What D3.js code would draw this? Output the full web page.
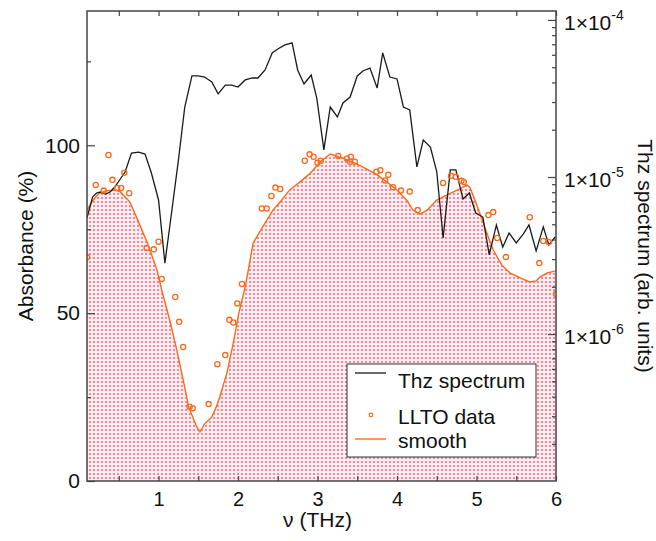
<!DOCTYPE html>
<html>
<head>
<meta charset="utf-8">
<script src="https://cdn.jsdelivr.net/npm/d3@7"></script>
<style>
    body { margin: 0; background: #fff; }
    svg { display: block; font-family: "Liberation Sans", Arial, sans-serif; }
    .tick line { stroke: #444; stroke-width: 1.2; }
    .tick text { fill: #111; }
</style>
</head>
<body>
<svg id="chart" width="656" height="541"></svg>
<script>
"use strict";

// THz spectrum (right axis, log scale)
var freqSpectrum = [0.10, 0.17, 0.22, 0.27, 0.33, 0.39, 0.45, 0.51, 0.58, 0.66, 0.75, 0.83, 0.91,
    1.00, 1.08, 1.16, 1.25, 1.33, 1.42, 1.50, 1.58, 1.67, 1.75, 1.84, 1.92, 2.00, 2.09, 2.18,
    2.25, 2.34, 2.43, 2.50, 2.59, 2.68, 2.75, 2.83, 2.92, 2.99, 3.08, 3.16, 3.25, 3.32, 3.41,
    3.50, 3.57, 3.66, 3.75, 3.82, 3.91, 4.00, 4.08, 4.16, 4.25, 4.33, 4.42, 4.50, 4.58, 4.67,
    4.74, 4.83, 4.91, 4.99, 5.08, 5.16, 5.25, 5.33, 5.41, 5.50, 5.59, 5.66, 5.75, 5.84, 5.91, 5.99];
var thzSpectrum = [5.48e-6, 7.46e-6, 7.91e-6, 8.02e-6, 7.79e-6, 8.02e-6, 8.64e-6, 9.57e-6, 1.08e-5,
    1.42e-5, 1.44e-5, 1.40e-5, 1.06e-5, 7.14e-6, 2.83e-6, 5.73e-6, 1.28e-5, 2.79e-5, 4.40e-5,
    4.40e-5, 4.33e-5, 4.03e-5, 3.38e-5, 3.85e-5, 3.85e-5, 3.74e-5, 4.15e-5, 4.27e-5, 4.27e-5,
    4.80e-5, 6.17e-5, 6.53e-5, 6.93e-5, 7.14e-5, 4.80e-5, 3.91e-5, 4.46e-5, 3.19e-5, 1.49e-5,
    2.79e-5, 2.41e-5, 2.96e-5, 3.23e-5, 4.40e-5, 4.73e-5, 4.94e-5, 3.69e-5, 6.17e-5, 4.33e-5,
    4.21e-5, 2.79e-5, 2.67e-5, 1.16e-5, 1.72e-5, 1.55e-5, 1.08e-5, 4.09e-6, 1.11e-5, 1.11e-5,
    7.24e-6, 7.91e-6, 5.90e-6, 5.56e-6, 3.19e-6, 4.95e-6, 3.58e-6, 4.40e-6, 3.80e-6, 4.34e-6,
    4.95e-6, 3.38e-6, 4.81e-6, 3.69e-6, 4.15e-6];

// LLTO absorbance data points (left axis)
var freqData = [0.10, 0.21, 0.31, 0.37, 0.42, 0.48, 0.53, 0.57, 0.63, 0.85, 0.94, 1.00, 1.04,
    1.21, 1.26, 1.31, 1.39, 1.43, 1.63, 1.74, 1.84, 1.89, 1.94, 1.99, 2.05, 2.30, 2.36, 2.42,
    2.47, 2.53, 2.84, 2.90, 2.95, 3.00, 3.04, 3.26, 3.37, 3.42, 3.41, 3.47, 3.74, 3.79, 3.85,
    3.89, 3.95, 4.05, 4.16, 4.26, 4.58, 4.68, 4.74, 4.81, 4.84, 5.15, 5.21, 5.26, 5.37, 5.67,
    5.79, 5.84, 5.91, 6.00];
var absorbanceData = [66.7, 88.2, 86.5, 97.1, 89.7, 87.3, 87.3, 91.8, 85.7, 69.4, 69.0, 71.3, 60.2,
    54.8, 47.4, 39.9, 22.1, 21.7, 22.9, 34.8, 37.5, 48.0, 47.2, 52.9, 58.7, 81.2, 81.2, 84.9,
    87.4, 87.0, 95.4, 97.3, 96.6, 94.8, 95.4, 96.8, 96.1, 96.6, 95.1, 95.1, 92.1, 92.6, 89.5,
    91.2, 87.5, 86.5, 86.2, 80.7, 88.8, 90.9, 90.6, 89.4, 89.1, 79.2, 80.1, 72.4, 66.7, 78.6,
    64.9, 71.5, 71.2, 55.7];

// smoothed absorbance
var freqSmooth = [0.10, 0.16, 0.24, 0.33, 0.45, 0.52, 0.58, 0.64, 0.70, 0.79, 0.86, 0.98, 1.04,
    1.15, 1.23, 1.31, 1.38, 1.48, 1.52, 1.58, 1.67, 1.72, 1.77, 1.86, 1.94, 2.01, 2.09, 2.13,
    2.19, 2.31, 2.44, 2.53, 2.65, 2.78, 2.91, 3.03, 3.16, 3.32, 3.50, 3.62, 3.75, 3.87, 4.00,
    4.13, 4.20, 4.29, 4.38, 4.50, 4.63, 4.79, 4.88, 4.92, 4.98, 5.04, 5.13, 5.21, 5.32, 5.42,
    5.55, 5.67, 5.75, 5.80, 5.89, 6.00];
var absorbanceSmooth = [80.7, 83.1, 85.5, 86.4, 86.7, 86.1, 84.6, 83.1, 79.8, 74.8, 70.9, 62.9, 56.9,
    47.1, 39.0, 30.1, 22.0, 16.1, 14.6, 17.0, 19.1, 21.7, 25.0, 32.2, 41.1, 50.0, 57.8, 62.9,
    70.9, 75.7, 80.7, 83.1, 86.7, 89.1, 91.7, 95.0, 97.4, 96.2, 94.4, 92.9, 91.2, 89.1, 86.7,
    83.4, 80.7, 79.5, 80.7, 83.7, 85.2, 87.0, 88.2, 87.3, 83.7, 79.8, 73.9, 68.8, 64.3, 62.0,
    60.5, 59.3, 59.6, 60.8, 62.0, 62.6];

// ticks
var xMajorTicks = [1, 2, 3, 4, 5, 6];
var xMinorTicks = [0.5, 1.5, 2.5, 3.5, 4.5, 5.5];
var yMajorTicks = [0, 50, 100];
var yMinorTicks = [25, 75, 125];
var rightMajorTicks = [1e-6, 1e-5, 1e-4];
var rightTickLabels = ["-6", "-5", "-4"];

var legendLabels = ["Thz spectrum", "LLTO data", "smooth"];


var plot = { left: 87, right: 556, top: 11, bottom: 481 };
var orange = "#fb6a1c";

var svg = d3.select("#chart");

var x = d3.scaleLinear().domain([0.1, 6]).range([plot.left, plot.right]);
var yAbs = d3.scaleLinear().domain([0, 140]).range([plot.bottom, plot.top]);
var yThz = d3.scaleLog().domain([1.16e-7, 1.14e-4]).range([plot.bottom, plot.top]);

//
// defs: clip and dotted fill
//
var defs = svg.append("defs");
defs.append("clipPath").attr("id", "plot-clip")
    .append("rect")
    .attr("x", plot.left).attr("y", plot.top)
    .attr("width", plot.right - plot.left)
    .attr("height", plot.bottom - plot.top);

var pattern = defs.append("pattern")
    .attr("id", "dots")
    .attr("patternUnits", "userSpaceOnUse")
    .attr("width", 4).attr("height", 4);
pattern.append("rect").attr("width", 4).attr("height", 4).attr("fill", "#fdeef1");
pattern.append("rect").attr("x", 1).attr("y", 1)
    .attr("width", 2).attr("height", 2)
    .attr("fill", "#f7899f");

var layer = svg.append("g").attr("clip-path", "url(#plot-clip)");

// area under smooth curve
var smoothPts = freqSmooth.map(function (f, i) { return [f, absorbanceSmooth[i]]; });

layer.append("path")
    .datum(smoothPts)
    .attr("fill", "url(#dots)")
    .attr("d", d3.area()
        .x(function (d) { return x(d[0]); })
        .y0(yAbs(0))
        .y1(function (d) { return yAbs(d[1]); }));

layer.append("path")
    .datum(smoothPts)
    .attr("fill", "none")
    .attr("stroke", orange)
    .attr("stroke-width", 1.4)
    .attr("d", d3.line()
        .x(function (d) { return x(d[0]); })
        .y(function (d) { return yAbs(d[1]); }));

// THz spectrum
var specPts = freqSpectrum.map(function (f, i) { return [f, thzSpectrum[i]]; });
layer.append("path")
    .datum(specPts)
    .attr("fill", "none")
    .attr("stroke", "#1a1a1a")
    .attr("stroke-width", 1.3)
    .attr("stroke-linejoin", "miter")
    .attr("d", d3.line()
        .x(function (d) { return x(d[0]); })
        .y(function (d) { return yThz(d[1]); }));

// LLTO data points
layer.selectAll("circle.llto")
    .data(freqData.map(function (f, i) { return [f, absorbanceData[i]]; }))
    .enter().append("circle")
    .attr("class", "llto")
    .attr("cx", function (d) { return x(d[0]); })
    .attr("cy", function (d) { return yAbs(d[1]); })
    .attr("r", 2.6)
    .attr("fill", "none")
    .attr("stroke", orange)
    .attr("stroke-width", 1.3);

//
// axes
//
function strip(g) {
    g.select(".domain").remove();
    return g;
}

svg.append("g")
    .attr("transform", "translate(" + plot.left + ",0)")
    .call(d3.axisLeft(yAbs).tickValues(yMajorTicks).tickSize(-8).tickPadding(7))
    .call(strip)
    .selectAll("text").attr("font-size", 21).attr("font-family", null);

svg.append("g")
    .attr("transform", "translate(" + plot.left + ",0)")
    .call(d3.axisLeft(yAbs).tickValues(yMinorTicks).tickSize(-4).tickFormat(""))
    .call(strip);

svg.append("g")
    .attr("transform", "translate(0," + plot.bottom + ")")
    .call(d3.axisBottom(x).tickValues(xMajorTicks).tickSize(-5).tickPadding(11)
        .tickFormat(d3.format("d")))
    .call(strip)
    .selectAll("text").attr("font-size", 20).attr("font-family", null);

svg.append("g")
    .attr("transform", "translate(0," + plot.bottom + ")")
    .call(d3.axisBottom(x).tickValues(xMinorTicks).tickSize(-5).tickFormat(""))
    .call(strip);

svg.append("g")
    .attr("transform", "translate(0," + plot.top + ")")
    .call(d3.axisTop(x).tickValues(xMajorTicks.concat(xMinorTicks)).tickSize(-5).tickFormat(""))
    .call(strip);

// right log axis
var rightMinor = yThz.ticks().filter(function (v) {
    return rightMajorTicks.indexOf(v) < 0;
});

svg.append("g")
    .attr("transform", "translate(" + plot.right + ",0)")
    .call(d3.axisRight(yThz).tickValues(rightMajorTicks).tickSize(-8).tickFormat(""))
    .call(strip);

svg.append("g")
    .attr("transform", "translate(" + plot.right + ",0)")
    .call(d3.axisRight(yThz).tickValues(rightMinor).tickSize(-4).tickFormat(""))
    .call(strip);

var rLabels = svg.append("g").selectAll("text")
    .data(rightMajorTicks)
    .enter().append("text")
    .attr("x", plot.right + 8)
    .attr("y", function (d) { return yThz(d) + 10; })
    .attr("font-size", 21)
    .attr("fill", "#111");
rLabels.append("tspan").text("1×10");
rLabels.append("tspan")
    .attr("dy", -10)
    .attr("font-size", 14)
    .text(function (d, i) { return rightTickLabels[i]; });

// frame
svg.append("rect")
    .attr("x", plot.left).attr("y", plot.top)
    .attr("width", plot.right - plot.left)
    .attr("height", plot.bottom - plot.top)
    .attr("fill", "none")
    .attr("stroke", "#444")
    .attr("stroke-width", 1.5);

// axis titles
svg.append("text")
    .attr("transform", "translate(33," + (plot.top + plot.bottom) / 2 + ") rotate(-90)")
    .attr("text-anchor", "middle")
    .attr("font-size", 21)
    .attr("fill", "#111")
    .text("Absorbance (%)");

svg.append("text")
    .attr("transform", "translate(638,256) rotate(90)")
    .attr("text-anchor", "middle")
    .attr("font-size", 21)
    .attr("fill", "#111")
    .text("Thz spectrum (arb. units)");

svg.append("text")
    .attr("x", (plot.left + plot.right) / 2 - 4)
    .attr("y", 527)
    .attr("text-anchor", "middle")
    .attr("font-size", 21)
    .attr("fill", "#111")
    .text("ν (THz)");

//
// legend
//
var legend = svg.append("g").attr("transform", "translate(347,364)");
legend.append("rect")
    .attr("width", 189).attr("height", 93)
    .attr("fill", "#fff")
    .attr("stroke", "#333")
    .attr("stroke-width", 1);

var rowY = [16, 52, 76];
legend.append("line")
    .attr("x1", 8).attr("x2", 39).attr("y1", rowY[0] - 7).attr("y2", rowY[0] - 7)
    .attr("stroke", "#1a1a1a").attr("stroke-width", 1.3);
legend.append("circle")
    .attr("cx", 24).attr("cy", rowY[1] - 1).attr("r", 1.8)
    .attr("fill", "none").attr("stroke", orange).attr("stroke-width", 1.2);
legend.append("line")
    .attr("x1", 8).attr("x2", 39).attr("y1", rowY[2] - 1).attr("y2", rowY[2] - 1)
    .attr("stroke", orange).attr("stroke-width", 1.4);

legend.selectAll("text.lbl")
    .data(legendLabels)
    .enter().append("text")
    .attr("class", "lbl")
    .attr("x", 51)
    .attr("y", function (d, i) { return rowY[i] + 8; })
    .attr("font-size", 21)
    .attr("fill", "#111")
    .text(function (d) { return d; });
</script>
</body>
</html>
